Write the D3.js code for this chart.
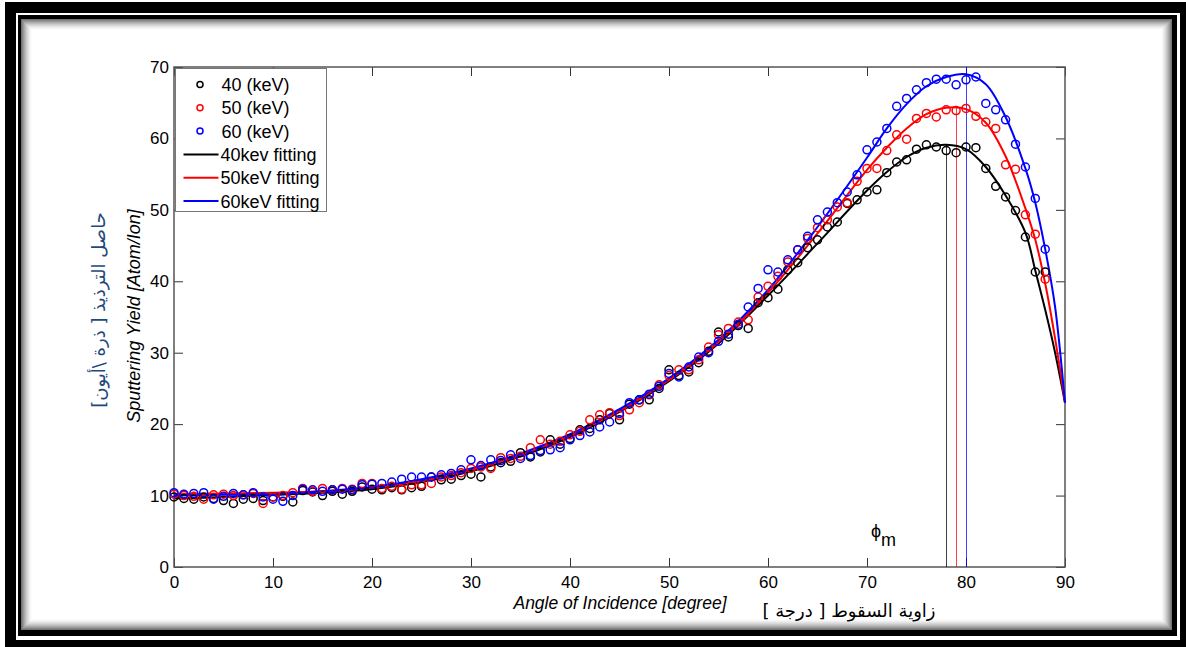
<!DOCTYPE html>
<html>
<head>
<meta charset="utf-8">
<script src="https://cdn.jsdelivr.net/npm/d3@7"></script>
<style>
    body { margin: 0; background: #fff; }
    svg { display: block; font-family: "Liberation Sans", Arial, "DejaVu Sans", sans-serif; }
    .tick text { font-size: 17px; fill: #000; }
    .tick line { stroke: #333; }
    .legend-text { font-size: 18px; }
</style>
</head>
<body>
<script>
// Measured angles (degree)
const angles = [0, 1, 2, 3, 4, 5, 6, 7, 8, 9, 10, 11, 12, 13, 14, 15, 16, 17, 18, 19,
    20, 21, 22, 23, 24, 25, 26, 27, 28, 29, 30, 31, 32, 33, 34, 35, 36, 37, 38, 39,
    40, 41, 42, 43, 44, 45, 46, 47, 48, 49, 50, 51, 52, 53, 54, 55, 56, 57, 58, 59,
    60, 61, 62, 63, 64, 65, 66, 67, 68, 69, 70, 71, 72, 73, 74, 75, 76, 77, 78, 79,
    80, 81, 82, 83, 84, 85, 86, 87, 88];

// Sputtering yield points
const yield40 = [9.8, 9.6, 9.5, 9.8, 9.6, 9.3, 8.9, 9.5, 9.6, 9.3, 9.8, 9.9, 9.1, 10.7, 10.5, 10.0, 10.6, 10.2, 10.6, 11.2,
    10.9, 10.8, 11.1, 10.8, 11.1, 11.3, 12.6, 12.2, 12.3, 12.8, 13.0, 12.6, 14.0, 14.6, 14.8, 16.0, 15.4, 16.1, 17.8, 17.2,
    18.0, 19.2, 19.4, 20.6, 21.5, 20.6, 22.8, 23.4, 23.4, 25.0, 27.6, 26.8, 27.3, 28.6, 30.2, 32.9, 32.2, 33.8, 33.4, 37.0,
    37.7, 38.9, 41.6, 42.6, 44.7, 45.8, 47.6, 48.3, 50.9, 51.4, 52.5, 52.8, 55.2, 56.7, 57.0, 58.5, 59.1, 58.8, 58.3, 58.0,
    58.8, 58.7, 55.8, 53.3, 51.8, 49.9, 46.2, 41.3, 41.3];

const yield50 = [10.2, 10.0, 9.9, 9.5, 10.1, 10.2, 10.0, 10.1, 10.3, 8.9, 9.8, 10.0, 10.4, 11.0, 10.6, 11.0, 10.8, 11.0, 10.9, 11.7,
    11.7, 11.0, 11.3, 10.9, 11.5, 11.5, 11.7, 12.6, 12.8, 13.2, 13.8, 14.0, 13.8, 15.3, 15.2, 15.5, 16.7, 17.8, 17.2, 17.6,
    18.5, 19.0, 20.6, 21.3, 21.6, 21.2, 22.0, 23.0, 24.1, 25.5, 26.8, 27.6, 27.6, 29.0, 30.8, 32.5, 33.4, 34.3, 34.6, 37.8,
    39.3, 40.7, 42.7, 44.4, 46.0, 47.5, 48.6, 50.4, 51.0, 54.0, 55.8, 55.8, 58.3, 60.5, 59.9, 62.8, 63.5, 63.0, 64.0, 63.9,
    64.2, 63.1, 62.3, 61.4, 56.3, 55.7, 49.3, 46.6, 40.3];

const yield60 = [10.4, 10.2, 10.3, 10.4, 9.5, 9.9, 10.3, 10.1, 10.4, 9.8, 9.5, 9.2, 10.0, 10.9, 10.8, 10.6, 10.8, 10.9, 10.8, 11.5,
    11.6, 11.7, 11.9, 12.3, 12.6, 12.6, 12.6, 12.9, 13.1, 13.6, 15.0, 14.2, 15.0, 14.9, 15.7, 15.2, 15.6, 16.3, 16.4, 16.7,
    17.8, 18.4, 18.9, 19.6, 20.3, 21.5, 23.0, 23.4, 24.2, 25.3, 27.1, 26.6, 28.0, 29.4, 30.0, 31.6, 32.6, 34.0, 36.4, 39.0,
    41.6, 41.3, 43.0, 44.4, 46.3, 48.6, 49.7, 51.0, 52.5, 54.9, 58.4, 59.5, 61.4, 64.5, 65.6, 66.8, 67.8, 68.3, 68.3, 67.5,
    68.2, 68.6, 64.9, 64.0, 62.6, 59.2, 56.0, 51.6, 44.5];

// Fitting curves
const fitAngles = [0, 5, 10, 15, 20, 25, 30, 35, 40, 45, 50, 55, 60, 65, 70, 72, 74, 76, 78, 80, 82, 84, 86, 87, 88, 89, 90];
const fit40 = [9.6, 9.8, 10.1, 10.4, 10.9, 11.9, 13.4, 15.5, 18.2, 21.7, 26.0, 31.3, 38.0, 45.3, 52.7, 55.3, 57.4, 58.7, 59.1, 58.5, 56.0, 52.0, 46.8, 41.5, 36.0, 30.0, 23.0];
const fit50 = [10.2, 10.3, 10.4, 10.6, 11.1, 12.1, 13.6, 15.7, 18.4, 21.9, 26.2, 31.5, 38.4, 46.7, 55.6, 58.7, 61.4, 63.4, 64.3, 64.1, 62.2, 57.5, 50.2, 45.8, 39.7, 32.0, 23.0];
const fit60 = [10.0, 10.1, 10.2, 10.6, 11.2, 12.3, 13.8, 15.9, 18.6, 22.1, 26.4, 31.8, 38.8, 47.6, 57.3, 61.4, 64.8, 67.3, 68.6, 69.0, 67.6, 63.0, 55.8, 51.0, 44.5, 36.4, 23.0];

// Angle of maximum yield (phi_m) and where each marker line stops
const peakAngles = [78, 79, 80];
const peakTops = [59.1, 64.3, 70];

const seriesNames = ["40 (keV)", "50 (keV)", "60 (keV)"];
const fitNames = ["40kev fitting", "50keV fitting", "60keV fitting"];
const colors = ["#000000", "#ff0000", "#0000ff"];

const xTicks = [0, 10, 20, 30, 40, 50, 60, 70, 80, 90];
const yTicks = [0, 10, 20, 30, 40, 50, 60, 70];

// Chart dimensions
const width = 1186;
const height = 647;
const margin = { top: 67, right: 121, bottom: 80, left: 174 };

const svg = d3.select("body")
    .append("svg")
    .attr("width", width)
    .attr("height", height);

// Picture frame: thick black border, white gap, thin black line, inner shadow
svg.append("rect").attr("x", 5).attr("y", 2).attr("width", width - 5).attr("height", height - 2).attr("fill", "#000");
svg.append("rect").attr("x", 16).attr("y", 13).attr("width", 1164).attr("height", 627).attr("fill", "#fff");
svg.append("rect").attr("x", 18).attr("y", 15).attr("width", 1159).attr("height", 621).attr("fill", "#000");
svg.append("rect").attr("x", 21).attr("y", 19).attr("width", 1151).attr("height", 611).attr("fill", "#fff");
for (let i = 0; i < 11; i++) {
    svg.append("rect")
        .attr("x", 21.5 + i).attr("y", 19.5 + i)
        .attr("width", 1150 - 2 * i).attr("height", 610 - 2 * i)
        .attr("fill", "none")
        .attr("stroke", "#000")
        .attr("stroke-opacity", 0.55 * Math.pow(1 - i / 11, 1.6));
}

// Scales
const xScale = d3.scaleLinear()
    .domain([0, 90])
    .range([margin.left, width - margin.right]);

const yScale = d3.scaleLinear()
    .domain([0, 70])
    .range([height - margin.bottom, margin.top]);

// Axes (ticks point inward, like the original plot)
svg.append("g")
    .attr("transform", `translate(0, ${height - margin.bottom})`)
    .call(d3.axisBottom(xScale).tickValues(xTicks).tickSizeInner(-9).tickSizeOuter(0).tickPadding(9))
    .call(g => g.select(".domain").remove());

svg.append("g")
    .attr("transform", `translate(0, ${margin.top})`)
    .call(d3.axisTop(xScale).tickValues(xTicks).tickSizeInner(-9).tickSizeOuter(0).tickFormat(""))
    .call(g => g.select(".domain").remove());

svg.append("g")
    .attr("transform", `translate(${margin.left}, 0)`)
    .call(d3.axisLeft(yScale).tickValues(yTicks).tickSizeInner(-9).tickSizeOuter(0).tickPadding(5))
    .call(g => g.select(".domain").remove());

svg.append("g")
    .attr("transform", `translate(${width - margin.right}, 0)`)
    .call(d3.axisRight(yScale).tickValues(yTicks).tickSizeInner(-9).tickSizeOuter(0).tickFormat(""))
    .call(g => g.select(".domain").remove());

// Axes box
svg.append("rect")
    .attr("x", xScale(0))
    .attr("y", yScale(70))
    .attr("width", xScale(90) - xScale(0))
    .attr("height", yScale(0) - yScale(70))
    .attr("fill", "none")
    .attr("stroke", "#555")
    .attr("stroke-width", 1.5);

// Vertical lines at the angle of maximum yield
peakAngles.forEach((a, i) => {
    svg.append("line")
        .attr("x1", Math.round(xScale(a)) + 0.5)
        .attr("x2", Math.round(xScale(a)) + 0.5)
        .attr("y1", yScale(0))
        .attr("y2", yScale(peakTops[i]))
        .attr("stroke", colors[i])
        .attr("stroke-opacity", 0.75)
        .attr("stroke-width", 1);
});

// Fitting curves
const fitLine = d3.line()
    .x(d => xScale(d[0]))
    .y(d => yScale(d[1]))
    .curve(d3.curveCatmullRom.alpha(0.5));

[fit40, fit50, fit60].forEach((fit, i) => {
    svg.append("path")
        .datum(fitAngles.map((a, j) => [a, fit[j]]))
        .attr("d", fitLine)
        .attr("fill", "none")
        .attr("stroke", colors[i])
        .attr("stroke-width", 2);
});

// Data points
[yield40, yield50, yield60].forEach((ys, i) => {
    svg.append("g")
        .selectAll("circle")
        .data(angles.map((a, j) => [a, ys[j]]))
        .join("circle")
        .attr("cx", d => xScale(d[0]))
        .attr("cy", d => yScale(d[1]))
        .attr("r", 4)
        .attr("fill", "none")
        .attr("stroke", colors[i])
        .attr("stroke-width", 1.5);
});

// Legend
const legend = svg.append("g").attr("transform", "translate(175.5, 68.5)");
legend.append("rect")
    .attr("width", 151)
    .attr("height", 143)
    .attr("fill", "#fff")
    .attr("stroke", "#777")
    .attr("stroke-width", 1);

seriesNames.forEach((name, i) => {
    const cy = 16 + i * 23.3;
    legend.append("circle")
        .attr("cx", 24.5)
        .attr("cy", cy)
        .attr("r", 3)
        .attr("fill", "none")
        .attr("stroke", colors[i])
        .attr("stroke-width", 1.5);
    legend.append("text")
        .attr("class", "legend-text")
        .attr("x", 46)
        .attr("y", cy + 6.5)
        .text(name);
});

fitNames.forEach((name, i) => {
    const cy = 86 + i * 23.3;
    legend.append("line")
        .attr("x1", 8)
        .attr("x2", 43)
        .attr("y1", cy)
        .attr("y2", cy)
        .attr("stroke", colors[i])
        .attr("stroke-width", 2);
    legend.append("text")
        .attr("class", "legend-text")
        .attr("x", 45)
        .attr("y", cy + 6.5)
        .text(name);
});

// phi_m label
svg.append("text")
    .attr("x", 871)
    .attr("y", 537)
    .attr("font-size", 18)
    .text("ϕ")
    .append("tspan")
    .attr("dy", 9)
    .text("m");

// x-axis labels
svg.append("text")
    .attr("x", 620)
    .attr("y", 609)
    .attr("text-anchor", "middle")
    .attr("font-size", 17.5)
    .attr("font-style", "italic")
    .text("Angle of Incidence [degree]");

svg.append("text")
    .attr("x", 849)
    .attr("y", 617)
    .attr("text-anchor", "middle")
    .attr("font-size", 18)
    .attr("font-family", "\"DejaVu Sans\", sans-serif")
    .text("زاوية السقوط [ درجة ]");

// y-axis labels
svg.append("text")
    .attr("transform", "rotate(-90)")
    .attr("x", -316)
    .attr("y", 140)
    .attr("text-anchor", "middle")
    .attr("font-size", 18)
    .attr("font-style", "italic")
    .text("Sputtering Yield [Atom/Ion]");

svg.append("text")
    .attr("transform", "rotate(-90)")
    .attr("x", -310)
    .attr("y", 105)
    .attr("text-anchor", "middle")
    .attr("font-size", 18)
    .attr("fill", "#1f497d")
    .attr("font-family", "\"DejaVu Sans\", sans-serif")
    .text("حاصل الترذيذ [ ذرة \\أيون]");
</script>
</body>
</html>
